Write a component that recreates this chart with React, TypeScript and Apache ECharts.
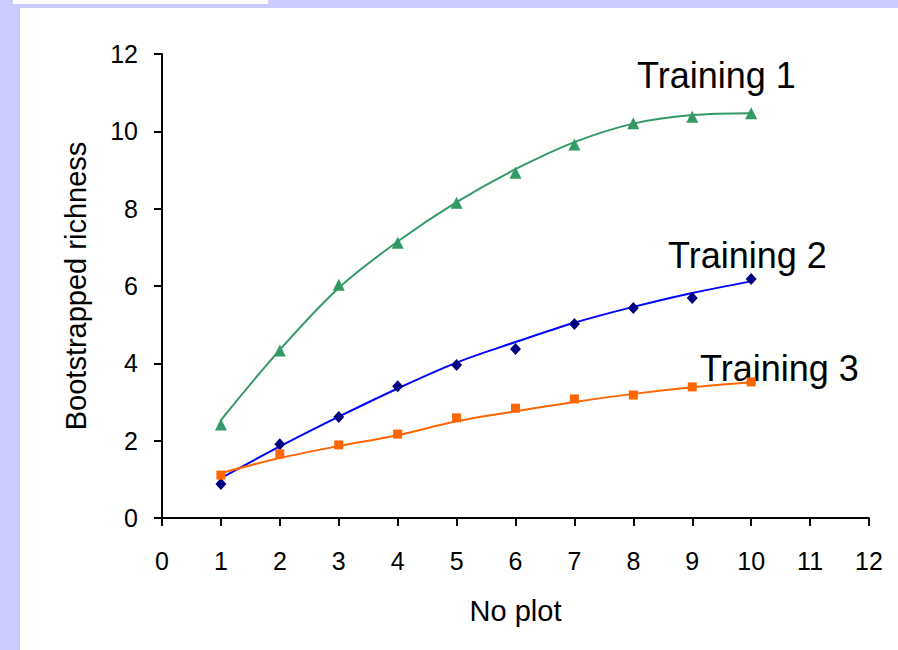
import React, { useEffect, useRef } from "react";
import * as echarts from "echarts";

// Plot numbers 1..10
const plots = [1, 2, 3, 4, 5, 6, 7, 8, 9, 10];

// Bootstrapped richness, observed points
const training1 = [2.42, 4.33, 6.03, 7.12, 8.15, 8.93, 9.66, 10.21, 10.38, 10.47];
const training2 = [0.88, 1.91, 2.61, 3.41, 3.96, 4.37, 5.02, 5.43, 5.69, 6.18];
const training3 = [1.11, 1.66, 1.89, 2.17, 2.59, 2.84, 3.08, 3.18, 3.39, 3.52];

// Fitted trend curves at the same plot numbers
const trend1 = [2.53, 4.35, 5.95, 7.15, 8.17, 9.02, 9.72, 10.2, 10.42, 10.47];
const trend2 = [1.03, 1.85, 2.62, 3.35, 4.02, 4.55, 5.05, 5.46, 5.82, 6.12];
const trend3 = [1.16, 1.55, 1.86, 2.14, 2.5, 2.76, 3.0, 3.21, 3.38, 3.51];

const seriesNames = ["Training 1", "Training 2", "Training 3"];

const xTicks = [0, 12, 1];
const yTicks = [0, 12, 2];

const FONT = "'Liberation Sans', Arial, sans-serif";

const pairs = (vals: number[]) => plots.map((p, i) => [p, vals[i]]);

export default function App() {
  const ref = useRef<HTMLDivElement>(null);

  useEffect(() => {
    if (!ref.current) return;
    const chart = echarts.init(ref.current, undefined, { renderer: "svg" });

    const trendLine = (name: string, vals: number[], color: string) => ({
      name,
      type: "line",
      data: pairs(vals),
      smooth: 0.35,
      showSymbol: false,
      symbol: "none",
      lineStyle: { color, width: 2 },
      z: 2,
    });

    const points = (name: string, vals: number[], symbol: string, size: any, color: string) => ({
      name,
      type: "scatter",
      data: pairs(vals),
      symbol,
      symbolSize: size,
      itemStyle: { color, opacity: 1 },
      z: 3,
    });

    chart.setOption({
      animation: false,
      textStyle: { fontFamily: FONT },
      grid: { left: 162, right: 29, top: 54, bottom: 132, containLabel: false },
      xAxis: {
        type: "value",
        min: xTicks[0],
        max: xTicks[1],
        interval: xTicks[2],
        name: "No plot",
        nameLocation: "middle",
        nameGap: 78,
        nameTextStyle: { fontSize: 29, color: "#000", fontFamily: FONT },
        axisLine: { show: true, lineStyle: { color: "#000", width: 2 } },
        axisTick: { show: true, inside: false, length: 8, lineStyle: { color: "#000", width: 2 } },
        axisLabel: { fontSize: 25, color: "#000", margin: 30, fontFamily: FONT },
        splitLine: { show: false },
      },
      yAxis: {
        type: "value",
        min: yTicks[0],
        max: yTicks[1],
        interval: yTicks[2],
        name: "Bootstrapped richness",
        nameLocation: "middle",
        nameGap: 72,
        nameTextStyle: { fontSize: 29, color: "#000", fontFamily: FONT },
        axisLine: { show: true, lineStyle: { color: "#000", width: 2 } },
        axisTick: { show: true, inside: false, length: 8, lineStyle: { color: "#000", width: 2 } },
        axisLabel: { fontSize: 25, color: "#000", margin: 24, fontFamily: FONT },
        splitLine: { show: false },
      },
      series: [
        trendLine(seriesNames[0], trend1, "#339966"),
        trendLine(seriesNames[1], trend2, "#0000ff"),
        trendLine(seriesNames[2], trend3, "#ff6600"),
        points(seriesNames[0], training1, "triangle", 12, "#339966"),
        points(seriesNames[1], training2, "diamond", [11, 12], "#000080"),
        points(seriesNames[2], training3, "rect", 9, "#ff6600"),
      ],
      graphic: [
        {
          type: "text",
          left: 637,
          top: 57,
          style: { text: seriesNames[0], fontSize: 36, fill: "#000", fontFamily: FONT },
        },
        {
          type: "text",
          left: 668,
          top: 237,
          style: { text: seriesNames[1], fontSize: 36, fill: "#000", fontFamily: FONT },
        },
        {
          type: "text",
          left: 700,
          top: 350,
          style: { text: seriesNames[2], fontSize: 36, fill: "#000", fontFamily: FONT },
        },
      ],
    });

    return () => chart.dispose();
  }, []);

  return (
    <div
      style={{
        position: "absolute",
        left: 0,
        top: 0,
        width: 898,
        height: 650,
        background: "#ccccff",
        overflow: "hidden",
      }}
    >
      <div style={{ position: "absolute", left: 13, top: 0, width: 255, height: 4, background: "#fff" }} />
      <div style={{ position: "absolute", left: 20, top: 8, right: 0, bottom: 0, background: "#fff" }} />
      <div ref={ref} style={{ position: "absolute", left: 0, top: 0, width: 898, height: 650 }} />
    </div>
  );
}
